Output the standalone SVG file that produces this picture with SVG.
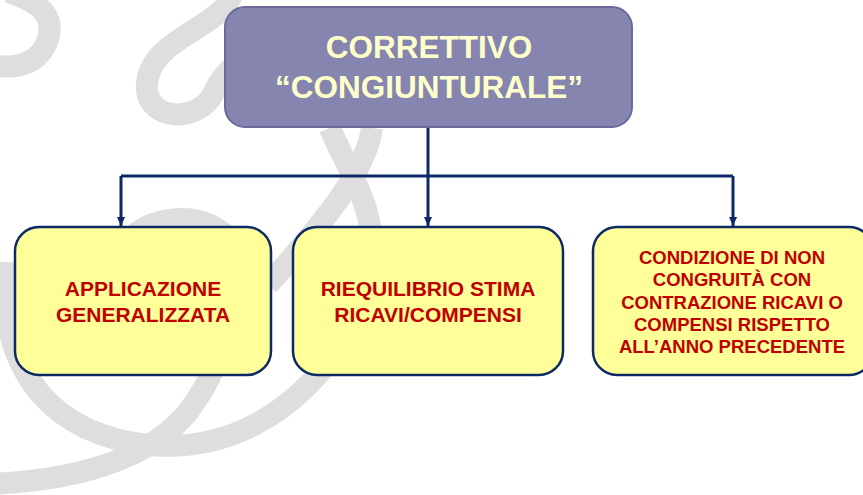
<svg xmlns="http://www.w3.org/2000/svg" width="863" height="495" viewBox="0 0 863 495">
  <style>
    .bg { fill: none; stroke: #dedede; stroke-width: 22; }
    .top { fill: #8585af; stroke: #6a6a9c; stroke-width: 2; }
    .box { fill: #ffff99; stroke: #0d2a66; stroke-width: 2.5; }
    .conn { fill: none; stroke: #0d2a66; stroke-width: 3; }
    .ttl { font-family: "Liberation Sans", Arial, sans-serif; font-weight: bold; font-size: 31.5px; fill: #ffffcc; text-anchor: middle; }
    .lbl { font-family: "Liberation Sans", Arial, sans-serif; font-weight: bold; font-size: 21px; fill: #c00000; text-anchor: middle; }
    .lbs { font-family: "Liberation Sans", Arial, sans-serif; font-weight: bold; font-size: 18.5px; fill: #c00000; text-anchor: middle; }
  </style>
  <defs>
    <marker id="arr" viewBox="0 0 10 10" refX="10" refY="5" markerUnits="userSpaceOnUse" markerWidth="9" markerHeight="9" orient="auto">
      <path d="M0,0.5 L10,5 L0,9.5 Z" fill="#0d2a66"/>
    </marker>
  </defs>
  <rect width="863" height="495" fill="#ffffff"/>
  <g id="background">
    <path class="bg" d="M 8 -8 Q 62 8 46 44 Q 34 70 -4 66"/>
    <path class="bg" d="M 232 -6 C 222 28 150 38 147 84 C 144 122 200 124 214 92 C 224 70 240 60 262 50"/>
    <path class="bg" d="M 372 128 C 366 170 330 215 268 285"/>
    <path class="bg" d="M 330 128 C 345 165 368 195 372 240"/>
    <path class="bg" d="M 118 262 C 128 212 212 205 232 245"/>
    <path class="bg" d="M 4 262 C -2 380 60 436 150 445 C 230 452 290 412 332 358"/>
    <path class="bg" d="M -10 484 C 80 480 150 458 188 412 C 200 396 208 382 214 368"/>
  </g>
  <g id="connectors">
    <path class="conn" d="M 428 127 V 176"/>
    <path class="conn" d="M 121 176 H 733"/>
    <path class="conn" d="M 121 176 V 226" marker-end="url(#arr)"/>
    <path class="conn" d="M 428 176 V 226" marker-end="url(#arr)"/>
    <path class="conn" d="M 733 176 V 226" marker-end="url(#arr)"/>
  </g>
  <g id="node-correttivo">
    <rect class="top" x="225" y="7" width="407" height="120" rx="20"/>
    <text class="ttl" x="429" y="58">CORRETTIVO</text>
    <text class="ttl" x="429" y="97.5">“CONGIUNTURALE”</text>
  </g>
  <g id="node-applicazione">
    <rect class="box" x="15" y="227" width="256" height="148" rx="24"/>
    <text class="lbl" x="143" y="296">APPLICAZIONE</text>
    <text class="lbl" x="143" y="322">GENERALIZZATA</text>
  </g>
  <g id="node-riequilibrio">
    <rect class="box" x="293" y="227" width="270" height="148" rx="24"/>
    <text class="lbl" x="428" y="296">RIEQUILIBRIO STIMA</text>
    <text class="lbl" x="428" y="322">RICAVI/COMPENSI</text>
  </g>
  <g id="node-condizione">
    <rect class="box" x="593" y="227" width="280" height="148" rx="24"/>
    <text class="lbs" x="732" y="263.5">CONDIZIONE DI NON</text>
    <text class="lbs" x="732" y="286">CONGRUITÀ CON</text>
    <text class="lbs" x="732" y="308.5">CONTRAZIONE RICAVI O</text>
    <text class="lbs" x="732" y="330.8">COMPENSI RISPETTO</text>
    <text class="lbs" x="732" y="353">ALL’ANNO PRECEDENTE</text>
  </g>
</svg>
